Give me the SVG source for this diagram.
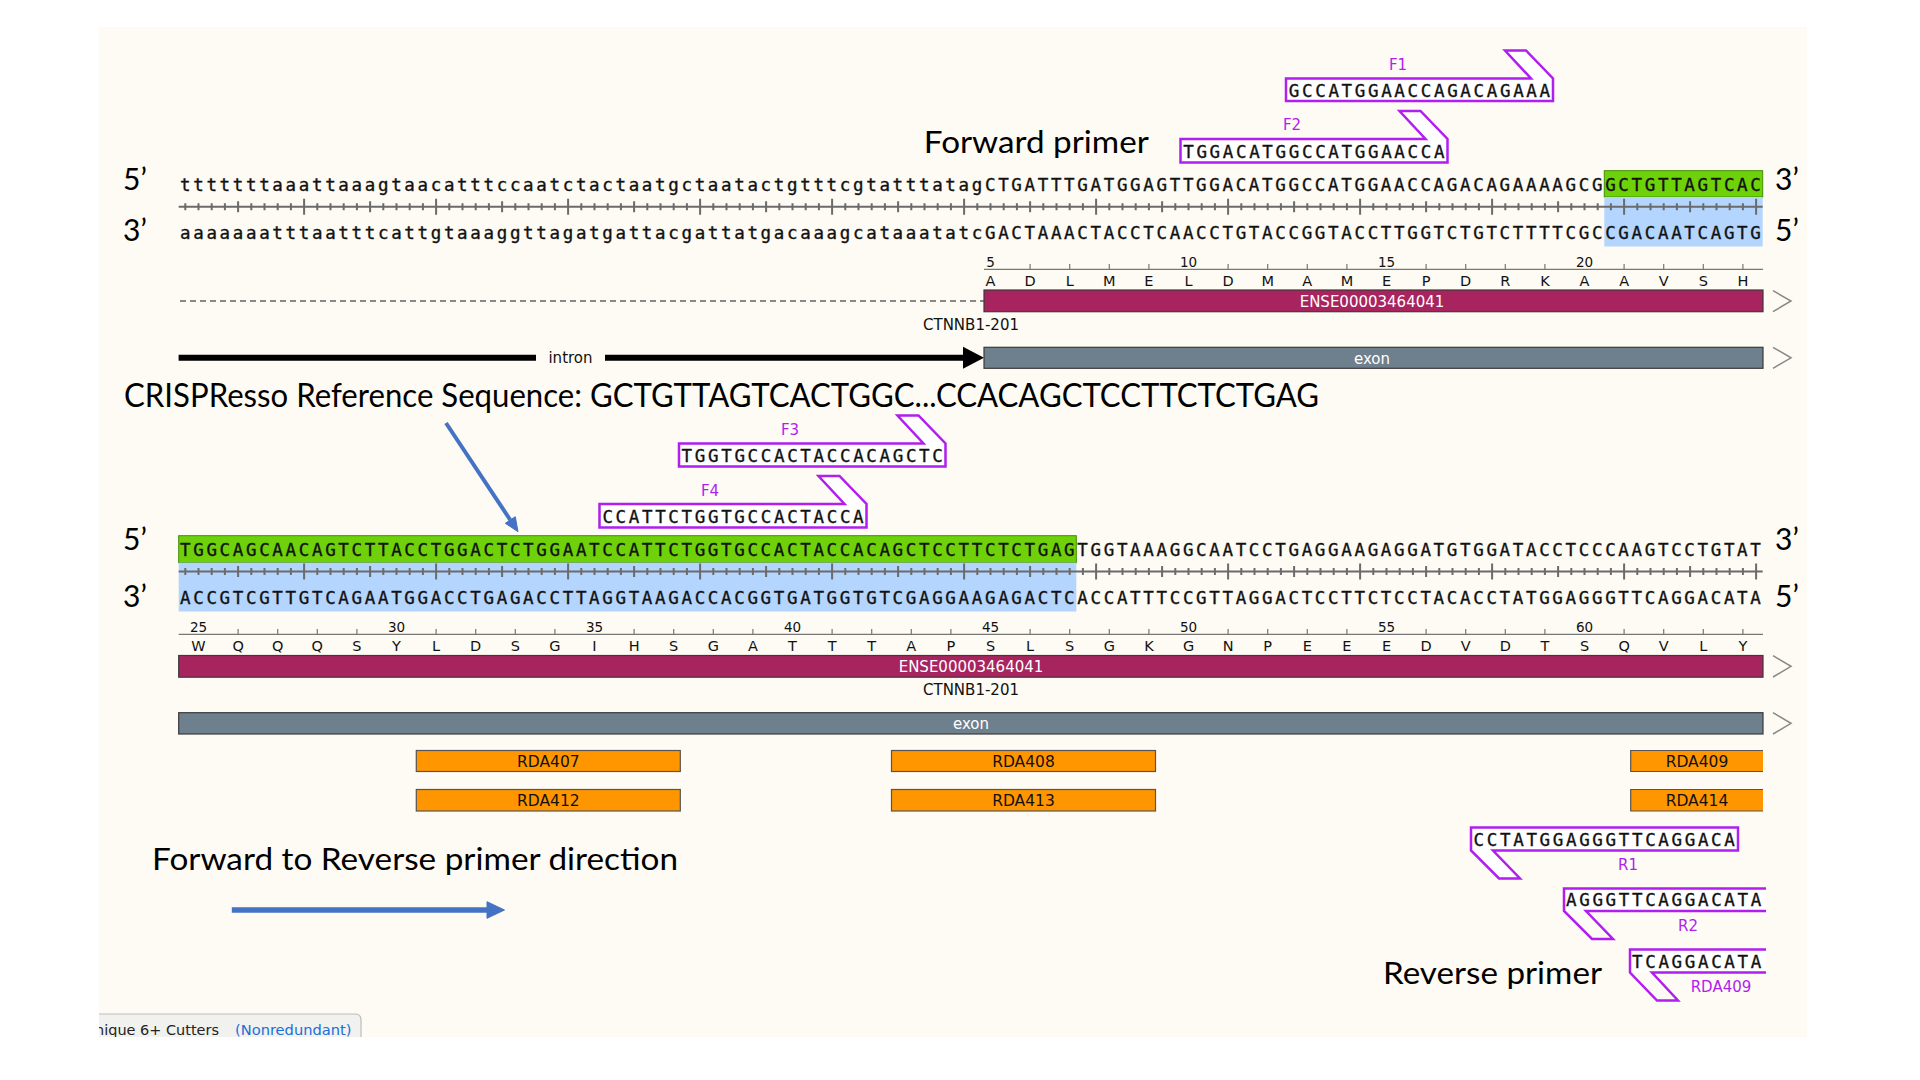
<svg xmlns="http://www.w3.org/2000/svg" xmlns:xlink="http://www.w3.org/1999/xlink" width="1920" height="1080" viewBox="0 0 1920 1080">
<defs>
<style>
.seq{font-family:"DejaVu Sans Mono","Liberation Mono",monospace;font-size:17.5px;letter-spacing:2.66px;fill:#111;stroke:#111;stroke-width:0.35px}
.big{font-family:Lato,"Open Sans",sans-serif;fill:#000}
.prime{font-family:Lato,"Open Sans",sans-serif;font-size:30px;fill:#000}
.lbl{font-family:"DejaVu Sans",sans-serif;font-size:15px;fill:#111;text-anchor:middle}
.aa{font-family:"DejaVu Sans",sans-serif;font-size:14.5px;fill:#111;text-anchor:middle}
.num{font-family:"DejaVu Sans",sans-serif;font-size:13.5px;fill:#111;text-anchor:middle}
.wt{font-family:"DejaVu Sans",sans-serif;font-size:15px;fill:#fff;text-anchor:middle}
.pl{font-family:"DejaVu Sans",sans-serif;font-size:15px;fill:#B01EF0;text-anchor:middle}
.primer{fill:none;stroke:#B01EF0;stroke-width:2.5;stroke-linejoin:miter}
.ptxt{fill:#fff}
.green{fill:#6FD10A;stroke:#3F8F00;stroke-width:1}
.blue{fill:#B4D5FE}
.tk{fill:none;stroke:#6b6b6b;stroke-width:2}
.ruler{fill:none;stroke:#777;stroke-width:1.2}
.ense{fill:#A8245F;stroke:#3a3a3a;stroke-width:1.2}
.exon{fill:#6E7F8E;stroke:#3a3a3a;stroke-width:1.2}
.chev{fill:none;stroke:#888;stroke-width:1.5}
.rda{fill:#FF9600;stroke:#555;stroke-width:1.2}
.rdat{font-family:"DejaVu Sans",sans-serif;font-size:15.5px;fill:#111;text-anchor:middle}
.barrow{stroke:#4472C4;fill:#4472C4}
</style>
<g id="ticks">
<path class="tk" d="M178.7 0H1762.7"/>
<path class="tk" stroke-width="1.6" d="M185.3 -3.5v7M198.5 -3.5v7M211.7 -3.5v7M224.9 -3.5v7M251.3 -3.5v7M264.5 -3.5v7M277.7 -3.5v7M290.9 -3.5v7M317.3 -3.5v7M330.5 -3.5v7M343.7 -3.5v7M356.9 -3.5v7M383.3 -3.5v7M396.5 -3.5v7M409.7 -3.5v7M422.9 -3.5v7M449.3 -3.5v7M462.5 -3.5v7M475.7 -3.5v7M488.9 -3.5v7M515.3 -3.5v7M528.5 -3.5v7M541.7 -3.5v7M554.9 -3.5v7M581.3 -3.5v7M594.5 -3.5v7M607.7 -3.5v7M620.9 -3.5v7M647.3 -3.5v7M660.5 -3.5v7M673.7 -3.5v7M686.9 -3.5v7M713.3 -3.5v7M726.5 -3.5v7M739.7 -3.5v7M752.9 -3.5v7M779.3 -3.5v7M792.5 -3.5v7M805.7 -3.5v7M818.9 -3.5v7M845.3 -3.5v7M858.5 -3.5v7M871.7 -3.5v7M884.9 -3.5v7M911.3 -3.5v7M924.5 -3.5v7M937.7 -3.5v7M950.9 -3.5v7M977.3 -3.5v7M990.5 -3.5v7M1003.7 -3.5v7M1016.9 -3.5v7M1043.3 -3.5v7M1056.5 -3.5v7M1069.7 -3.5v7M1082.9 -3.5v7M1109.3 -3.5v7M1122.5 -3.5v7M1135.7 -3.5v7M1148.9 -3.5v7M1175.3 -3.5v7M1188.5 -3.5v7M1201.7 -3.5v7M1214.9 -3.5v7M1241.3 -3.5v7M1254.5 -3.5v7M1267.7 -3.5v7M1280.9 -3.5v7M1307.3 -3.5v7M1320.5 -3.5v7M1333.7 -3.5v7M1346.9 -3.5v7M1373.3 -3.5v7M1386.5 -3.5v7M1399.7 -3.5v7M1412.9 -3.5v7M1439.3 -3.5v7M1452.5 -3.5v7M1465.7 -3.5v7M1478.9 -3.5v7M1505.3 -3.5v7M1518.5 -3.5v7M1531.7 -3.5v7M1544.9 -3.5v7M1571.3 -3.5v7M1584.5 -3.5v7M1597.7 -3.5v7M1610.9 -3.5v7M1637.3 -3.5v7M1650.5 -3.5v7M1663.7 -3.5v7M1676.9 -3.5v7M1703.3 -3.5v7M1716.5 -3.5v7M1729.7 -3.5v7M1742.9 -3.5v7"/>
<path class="tk" stroke-width="1.8" d="M238.1 -5.5v11M370.1 -5.5v11M502.1 -5.5v11M634.1 -5.5v11M766.1 -5.5v11M898.1 -5.5v11M1030.1 -5.5v11M1162.1 -5.5v11M1294.1 -5.5v11M1426.1 -5.5v11M1558.1 -5.5v11M1690.1 -5.5v11"/>
<path class="tk" d="M304.1 -8v16M436.1 -8v16M568.1 -8v16M700.1 -8v16M832.1 -8v16M964.1 -8v16M1096.1 -8v16M1228.1 -8v16M1360.1 -8v16M1492.1 -8v16M1624.1 -8v16M1756.1 -8v16"/>
</g>
<clipPath id="creamclip"><rect x="99" y="27" width="1708" height="1010"/></clipPath>
</defs>

<rect x="0" y="0" width="1920" height="1080" fill="#ffffff"/>
<rect id="background" x="99" y="27" width="1708" height="1010" fill="#FDFBF3"/>

<!-- Row 1 sequence -->
<g id="row1">
<rect class="green" x="1604.3" y="170.7" width="158.4" height="26.3"/>
<rect class="blue" x="1604.3" y="197" width="158.4" height="49.5"/>
<text class="seq" x="180" y="191">tttttttaaattaaagtaacatttccaatctactaatgctaatactgtttcgtatttatagCTGATTTGATGGAGTTGGACATGGCCATGGAACCAGACAGAAAAGCGGCTGTTAGTCAC</text>
<use xlink:href="#ticks" href="#ticks" y="206.7"/>
<text class="seq" x="180" y="239">aaaaaaatttaatttcattgtaaaggttagatgattacgattatgacaaagcataaatatcGACTAAACTACCTCAACCTGTACCGGTACCTTGGTCTGTCTTTTCGCCGACAATCAGTG</text>
<text class="prime" x="123" y="190">5’</text>
<text class="prime" x="123" y="241">3’</text>
<text class="prime" x="1775" y="190">3’</text>
<text class="prime" x="1775" y="241">5’</text>
</g>

<!-- Row 1 annotations -->
<g id="row1-protein">
<path class="ruler" d="M984 269.3H1763M1030.1 264v5.3M1069.7 264v5.3M1109.3 264v5.3M1148.9 264v5.3M1228.1 264v5.3M1267.7 264v5.3M1307.3 264v5.3M1346.9 264v5.3M1426.1 264v5.3M1465.7 264v5.3M1505.3 264v5.3M1544.9 264v5.3M1624.1 264v5.3M1663.7 264v5.3M1703.3 264v5.3M1742.9 264v5.3"/>
<text class="num" x="990.5" y="267">5</text>
<text class="num" x="1188.5" y="267">10</text>
<text class="num" x="1386.5" y="267">15</text>
<text class="num" x="1584.5" y="267">20</text>
<text class="aa" y="285.5"><tspan x="990.5">A</tspan><tspan x="1030.1">D</tspan><tspan x="1069.7">L</tspan><tspan x="1109.3">M</tspan><tspan x="1148.9">E</tspan><tspan x="1188.5">L</tspan><tspan x="1228.1">D</tspan><tspan x="1267.7">M</tspan><tspan x="1307.3">A</tspan><tspan x="1346.9">M</tspan><tspan x="1386.5">E</tspan><tspan x="1426.1">P</tspan><tspan x="1465.7">D</tspan><tspan x="1505.3">R</tspan><tspan x="1544.9">K</tspan><tspan x="1584.5">A</tspan><tspan x="1624.1">A</tspan><tspan x="1663.7">V</tspan><tspan x="1703.3">S</tspan><tspan x="1742.9">H</tspan></text>
</g>
<g id="row1-transcript">
<path d="M180 301H984" stroke="#888" stroke-width="2" stroke-dasharray="6 4" fill="none"/>
<rect class="ense" x="984" y="290" width="779" height="21.7"/>
<text class="wt" x="1372" y="306.5">ENSE00003464041</text>
<polyline class="chev" points="1773,290.7 1791,301 1773,311.7"/>
<text class="lbl" x="971" y="330">CTNNB1-201</text>
</g>
<g id="row1-exon">
<path d="M178.6 357.7H536M605 357.7H966" stroke="#000" stroke-width="6" fill="none"/>
<polygon points="963,346.7 984,357.7 963,368.7" fill="#000"/>
<text class="lbl" x="570.5" y="363" fill="#000">intron</text>
<rect class="exon" x="984" y="347.3" width="779" height="21"/>
<text class="wt" x="1372" y="363.5">exon</text>
<polyline class="chev" points="1773,347.3 1791,357.8 1773,368.3"/>
</g>

<!-- Forward primers row 1 -->
<g id="primer-F1">
<path class="primer ptxt" d="M1286,101 V78.5 H1531 L1505,50.5 H1526 L1553,78.5 V101 Z"/>
<text class="seq" x="1288.8" y="96.5">GCCATGGAACCAGACAGAAA</text>
<text class="pl" x="1398" y="70">F1</text>
</g>
<g id="primer-F2">
<path class="primer ptxt" d="M1180.5,162.5 V139 H1425.5 L1399.5,111 H1420.5 L1447.5,139 V162.5 Z"/>
<text class="seq" x="1183.2" y="157.5">TGGACATGGCCATGGAACCA</text>
<text class="pl" x="1292" y="130">F2</text>
</g>

<g id="labels">
<text class="big" x="923.8" y="153.3" font-size="31" textLength="225" lengthAdjust="spacingAndGlyphs">Forward primer</text>
<text class="big" x="124" y="406.5" font-size="33" textLength="1195" lengthAdjust="spacingAndGlyphs">CRISPResso Reference Sequence: GCTGTTAGTCACTGGC...CCACAGCTCCTTCTCTGAG</text>
<text class="big" x="152" y="870" font-size="31" textLength="526" lengthAdjust="spacingAndGlyphs">Forward to Reverse primer direction</text>
<text class="big" x="1383" y="984" font-size="31" textLength="219" lengthAdjust="spacingAndGlyphs">Reverse primer</text>
</g>

<!-- Forward primers row 2 -->
<g id="primer-F3">
<path class="primer ptxt" d="M679,466.5 V443.5 H923.5 L897.5,415.5 H918.5 L945.5,443.5 V466.5 Z"/>
<text class="seq" x="681.6" y="461.5">TGGTGCCACTACCACAGCTC</text>
<text class="pl" x="790" y="435">F3</text>
</g>
<g id="primer-F4">
<path class="primer ptxt" d="M599.5,527.5 V504 H844.5 L818.5,476 H839.5 L866.5,504 V527.5 Z"/>
<text class="seq" x="602.4" y="522.5">CCATTCTGGTGCCACTACCA</text>
<text class="pl" x="710" y="495.5">F4</text>
</g>

<!-- Row 2 sequence -->
<g id="row2">
<rect class="green" x="178.7" y="535.7" width="897.6" height="27"/>
<rect class="blue" x="178.7" y="562.7" width="897.6" height="48.8"/>
<text class="seq" x="180" y="555.5">TGGCAGCAACAGTCTTACCTGGACTCTGGAATCCATTCTGGTGCCACTACCACAGCTCCTTCTCTGAGTGGTAAAGGCAATCCTGAGGAAGAGGATGTGGATACCTCCCAAGTCCTGTAT</text>
<use xlink:href="#ticks" href="#ticks" y="571.5"/>
<text class="seq" x="180" y="603.5">ACCGTCGTTGTCAGAATGGACCTGAGACCTTAGGTAAGACCACGGTGATGGTGTCGAGGAAGAGACTCACCATTTCCGTTAGGACTCCTTCTCCTACACCTATGGAGGGTTCAGGACATA</text>
<text class="prime" x="123" y="550">5’</text>
<text class="prime" x="123" y="607">3’</text>
<text class="prime" x="1775" y="550">3’</text>
<text class="prime" x="1775" y="607">5’</text>
</g>

<g id="row2-protein">
<path class="ruler" d="M178.7 634.3H1763M238.1 629v5.3M277.7 629v5.3M317.3 629v5.3M356.9 629v5.3M436.1 629v5.3M475.7 629v5.3M515.3 629v5.3M554.9 629v5.3M634.1 629v5.3M673.7 629v5.3M713.3 629v5.3M752.9 629v5.3M832.1 629v5.3M871.7 629v5.3M911.3 629v5.3M950.9 629v5.3M1030.1 629v5.3M1069.7 629v5.3M1109.3 629v5.3M1148.9 629v5.3M1228.1 629v5.3M1267.7 629v5.3M1307.3 629v5.3M1346.9 629v5.3M1426.1 629v5.3M1465.7 629v5.3M1505.3 629v5.3M1544.9 629v5.3M1624.1 629v5.3M1663.7 629v5.3M1703.3 629v5.3M1742.9 629v5.3"/>
<text class="num" y="632"><tspan x="198.5">25</tspan><tspan x="396.5">30</tspan><tspan x="594.5">35</tspan><tspan x="792.5">40</tspan><tspan x="990.5">45</tspan><tspan x="1188.5">50</tspan><tspan x="1386.5">55</tspan><tspan x="1584.5">60</tspan></text>
<text class="aa" y="650.5"><tspan x="198.5">W</tspan><tspan x="238.1">Q</tspan><tspan x="277.7">Q</tspan><tspan x="317.3">Q</tspan><tspan x="356.9">S</tspan><tspan x="396.5">Y</tspan><tspan x="436.1">L</tspan><tspan x="475.7">D</tspan><tspan x="515.3">S</tspan><tspan x="554.9">G</tspan><tspan x="594.5">I</tspan><tspan x="634.1">H</tspan><tspan x="673.7">S</tspan><tspan x="713.3">G</tspan><tspan x="752.9">A</tspan><tspan x="792.5">T</tspan><tspan x="832.1">T</tspan><tspan x="871.7">T</tspan><tspan x="911.3">A</tspan><tspan x="950.9">P</tspan><tspan x="990.5">S</tspan><tspan x="1030.1">L</tspan><tspan x="1069.7">S</tspan><tspan x="1109.3">G</tspan><tspan x="1148.9">K</tspan><tspan x="1188.5">G</tspan><tspan x="1228.1">N</tspan><tspan x="1267.7">P</tspan><tspan x="1307.3">E</tspan><tspan x="1346.9">E</tspan><tspan x="1386.5">E</tspan><tspan x="1426.1">D</tspan><tspan x="1465.7">V</tspan><tspan x="1505.3">D</tspan><tspan x="1544.9">T</tspan><tspan x="1584.5">S</tspan><tspan x="1624.1">Q</tspan><tspan x="1663.7">V</tspan><tspan x="1703.3">L</tspan><tspan x="1742.9">Y</tspan></text>
</g>
<g id="row2-transcript">
<rect class="ense" x="178.7" y="655.5" width="1584.3" height="21.7"/>
<text class="wt" x="971" y="672">ENSE00003464041</text>
<polyline class="chev" points="1773,655.7 1791,666.3 1773,677"/>
<text class="lbl" x="971" y="695">CTNNB1-201</text>
</g>
<g id="row2-exon">
<rect class="exon" x="178.7" y="712.7" width="1584.3" height="21.3"/>
<text class="wt" x="971" y="729">exon</text>
<polyline class="chev" points="1773,712.7 1791,723.3 1773,734"/>
</g>

<!-- RDA boxes -->
<g id="RDA407"><rect class="rda" x="416.3" y="750.5" width="264" height="21"/><text class="rdat" x="548.3" y="766.5">RDA407</text></g>
<g id="RDA408"><rect class="rda" x="891.5" y="750.5" width="264" height="21"/><text class="rdat" x="1023.5" y="766.5">RDA408</text></g>
<g id="RDA409"><rect x="1630.7" y="750.5" width="132.3" height="21" fill="#FF9600"/><path d="M1763 750.5H1630.7V771.5H1763" fill="none" stroke="#555" stroke-width="1.2"/><text class="rdat" x="1697" y="766.5">RDA409</text></g>
<g id="RDA412"><rect class="rda" x="416.3" y="789.5" width="264" height="21.5"/><text class="rdat" x="548.3" y="805.8">RDA412</text></g>
<g id="RDA413"><rect class="rda" x="891.5" y="789.5" width="264" height="21.5"/><text class="rdat" x="1023.5" y="805.8">RDA413</text></g>
<g id="RDA414"><rect x="1630.7" y="789.5" width="132.3" height="21.5" fill="#FF9600"/><path d="M1763 789.5H1630.7V811H1763" fill="none" stroke="#555" stroke-width="1.2"/><text class="rdat" x="1697" y="805.8">RDA414</text></g>

<!-- Reverse primers -->
<g id="primer-R1">
<path class="primer ptxt" d="M1471,827.5 H1738 V850.5 H1493 L1520,878.5 H1499 L1471,850.5 Z"/>
<text class="seq" x="1473.6" y="845.5">CCTATGGAGGGTTCAGGACA</text>
<text class="pl" x="1628" y="870">R1</text>
</g>
<g id="primer-R2">
<path d="M1565,911 H1766 V888.5 H1565 Z" fill="#fff"/>
<path class="primer" d="M1766,888.5 H1564 V911 L1592,939 H1613 L1586,911 H1766"/>
<text class="seq" x="1566" y="906">AGGGTTCAGGACATA</text>
<text class="pl" x="1688" y="931">R2</text>
</g>
<g id="primer-RDA409">
<path d="M1631,972.5 H1766 V949.5 H1631 Z" fill="#fff"/>
<path class="primer" d="M1766,949.5 H1630 V972.5 L1657,1000.5 H1678 L1652,972.5 H1766"/>
<text class="seq" x="1632" y="967.5">TCAGGACATA</text>
<text class="pl" x="1721" y="992">RDA409</text>
</g>

<!-- Blue arrows -->
<g id="connectors">
<line x1="446" y1="423" x2="510.3" y2="520" stroke="#4472C4" stroke-width="4"/>
<polygon class="barrow" points="518,531.7 505.3,523.3 515.3,516.7"/>
<line x1="231.8" y1="910" x2="489" y2="910" stroke="#4472C4" stroke-width="5.5"/>
<polygon class="barrow" points="487,901.7 504.5,910 487,918.3"/>
</g>

<!-- bottom tab -->
<g id="tab" clip-path="url(#creamclip)">
<path d="M90 1040V1014H355Q361 1014 361 1020V1040Z" fill="#F1F1EF" stroke="#BDBDBD" stroke-width="1.2"/>
<text x="95" y="1035" font-family="DejaVu Sans,sans-serif" font-size="14.3" fill="#222" textLength="124" lengthAdjust="spacingAndGlyphs">nique 6+ Cutters</text>
<text x="235" y="1035" font-family="DejaVu Sans,sans-serif" font-size="14.3" fill="#1A6FD8" textLength="116.5" lengthAdjust="spacingAndGlyphs">(Nonredundant)</text>
</g>
</svg>
